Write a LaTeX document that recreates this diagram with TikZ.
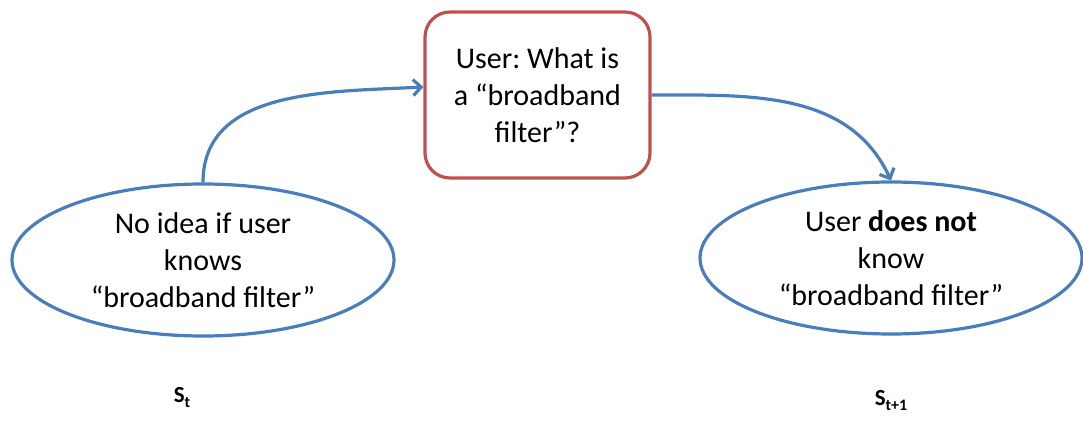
\documentclass[tikz,border=0pt]{standalone}
\usepackage{fontspec}
\setmainfont{Carlito}
\usetikzlibrary{shapes.geometric,arrows.meta}
\definecolor{edgeblue}{RGB}{74,126,187}
\definecolor{boxred}{RGB}{192,80,77}
\frenchspacing
\newcommand{\mysub}[1]{\raisebox{-5pt}{\fontsize{16}{18}\selectfont #1}}
\begin{document}
\begin{tikzpicture}[x=1pt,y=-1pt,
  txt/.style={font=\fontsize{30}{37}\selectfont,align=center,text=black},
  state/.style={txt,ellipse,draw=edgeblue,line width=3.2pt,minimum width=382pt,minimum height=152pt,inner sep=0pt},
  action/.style={txt,draw=boxred,line width=3.2pt,rounded corners=25pt,minimum width=225pt,minimum height=166pt,inner sep=0pt},
  link/.style={draw=edgeblue,line width=3.2pt,-{Straight Barb[length=8pt,width=16pt,line width=3.2pt]}},
  lab/.style={font=\fontsize{23}{26}\selectfont\bfseries,text=black}]
\useasboundingbox (0,0) rectangle (1083,422);
\node[state] (s0) at (203,260) {No idea if user\\knows\\“broadband filter”};
\node[state] (s1) at (891,258) {User \textbf{does not}\\know\\“broadband filter”};
\node[action] (q) at (537.5,95) {User: What is\\a “broadband\\filter”?};
\node[lab] (l0) at (182,398) {S\mysub{t}};
\node[lab] (l1) at (891,401) {S\mysub{t+1}};
\draw[link] (s0.north) to[out=90,in=183] (q.west|-0,87);
\draw[link] (q.east|-0,95) to[out=0,in=115] (s1.north);
\end{tikzpicture}
\end{document}
